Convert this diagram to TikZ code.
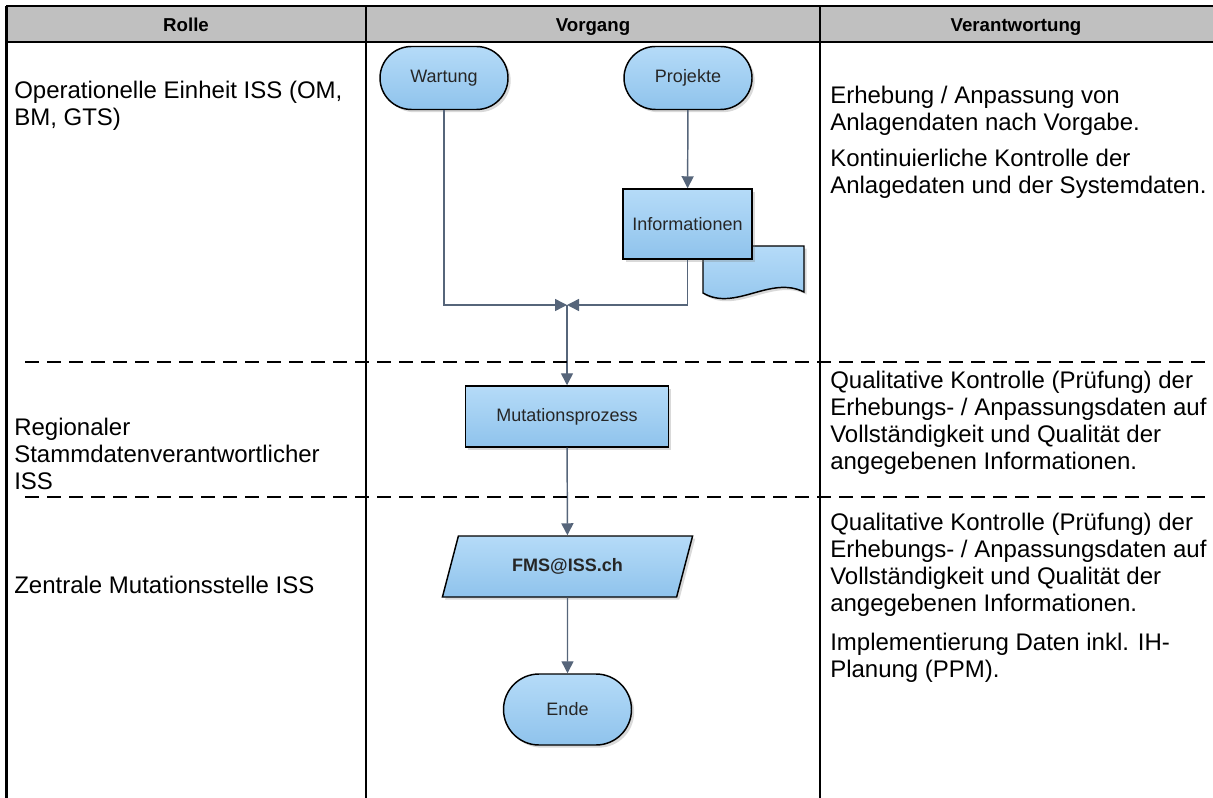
\documentclass[tikz,border=0pt]{standalone}
\usepackage{fontspec}
\setmainfont{Liberation Sans}
\usepackage{xcolor}
\usetikzlibrary{shapes.geometric,shapes.misc,arrows.meta,positioning,shadows}

\definecolor{boxtop}{HTML}{B5DBF8}
\definecolor{boxbot}{HTML}{8FC3EC}
\definecolor{flowline}{HTML}{56657A}
\definecolor{hdrgray}{HTML}{C0C0C0}

\begin{document}
\begin{tikzpicture}[x=0.75pt,y=-0.75pt,
    box/.style={draw=black, line width=1.1pt, top color=boxtop, bottom color=boxbot,
        inner sep=0pt, text=black!85, font=\fontsize{13.5}{15}\selectfont,
        drop shadow={shadow xshift=2pt, shadow yshift=-2pt, opacity=0.3}},
    terminal/.style={box, rounded rectangle, minimum width=96pt, minimum height=47.25pt},
    process/.style={box, rectangle},
    io/.style={box, trapezium, trapezium left angle=63, trapezium right angle=117,
        trapezium stretches=true, minimum width=188pt, minimum height=45.75pt},
    flow/.style={draw=flowline, line width=1.1pt, -{Triangle[length=9pt,width=9pt]}},
    hdr/.style={anchor=base, inner sep=0pt, font=\fontsize{14}{16}\selectfont\bfseries},
    celltext/.style={anchor=west, align=left, inner sep=0pt, font=\fontsize{18}{20.25}\selectfont},
    lane/.style={line width=1.5pt, dash pattern=on 10.5pt off 6pt}]
    \useasboundingbox (0,0) rectangle (1213,798);

    % Header row
    \fill[hdrgray] (6,6) rectangle (1213,42);
    \draw[line width=1.8pt] (6,6) -- (1213,6);
    \draw[line width=1.8pt] (6,42) -- (1213,42);
    \draw[line width=1.8pt] (6.5,6) -- (6.5,798);
    \draw[line width=1.8pt] (366,6) -- (366,798);
    \draw[line width=1.8pt] (820,6) -- (820,798);
    \node[hdr] (hrolle) at (186,31.5) {Rolle};
    \node[hdr] (hvorgang) at (593,31.5) {Vorgang};
    \node[hdr] (hverant) at (1016,31.5) {Verantwortung};

    % Flow chart
    \node[terminal] (wartung) at (444,78) {Wartung};
    \node[terminal] (projekte) at (688,78) {Projekte};
    \draw[box] (703,246) -- (804,246) -- (804,292)
        .. controls (770,275) and (735,312) .. (703,293) -- cycle;
    \node[process, minimum width=96.75pt, minimum height=52.5pt] (info) at (687.5,224) {Informationen};
    \coordinate (merge) at (567,305);
    \node[process, minimum width=152.25pt, minimum height=45.75pt] (mut) at (567,416.5) {Mutationsprozess};
    \node[io] (fms) at (567.5,566.5) {\textbf{FMS@ISS.ch}};
    \node[terminal, minimum height=53.25pt] (ende) at (567.5,709.5) {Ende};

    \draw[flow] (projekte) -- (info);
    \draw[flow] (wartung.south) |- (merge);
    \draw[flow] (info.south) |- (merge);
    \draw[flow] (merge) -- (mut);
    \draw[flow] (mut) -- (fms);
    \draw[flow] (fms) -- (ende);

    % Lane separators
    \draw[lane] (25,362) -- (1213,362);
    \draw[lane] (25,497) -- (1213,497);

    % Roles
    \node[celltext] (rolle1) at (14,106) {Operationelle Einheit ISS (OM,\\BM, GTS)};
    \node[celltext] (rolle2) at (14,454) {Regionaler\\Stammdatenverantwortlicher\\ISS};
    \node[celltext] (rolle3) at (14,585) {Zentrale Mutationsstelle ISS};

    % Responsibilities
    \node[celltext] (verant1a) at (830,110.5) {Erhebung / Anpassung von\\Anlagendaten nach Vorgabe.};
    \node[celltext] (verant1b) at (830,173.5) {Kontinuierliche Kontrolle der\\Anlagedaten und der Systemdaten.};
    \node[celltext] (verant2) at (830,422.5) {Qualitative Kontrolle (Prüfung) der\\Erhebungs- / Anpassungsdaten auf\\Vollständigkeit und Qualität der\\angegebenen Informationen.};
    \node[celltext] (verant3a) at (830,564.5) {Qualitative Kontrolle (Prüfung) der\\Erhebungs- / Anpassungsdaten auf\\Vollständigkeit und Qualität der\\angegebenen Informationen.};
    \node[celltext] (verant3b) at (830,657.5) {Implementierung Daten inkl. IH-\\Planung (PPM).};
\end{tikzpicture}
\end{document}
